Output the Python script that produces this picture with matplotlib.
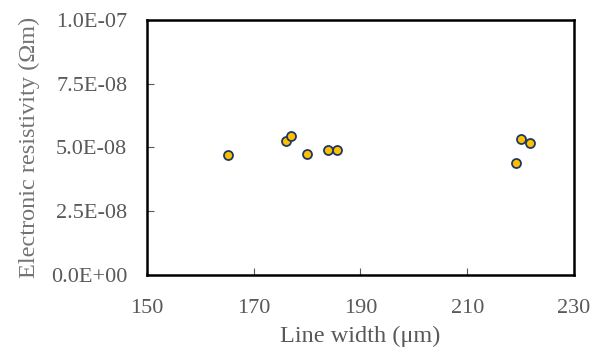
import matplotlib
matplotlib.use("Agg")
import matplotlib.pyplot as plt
from matplotlib.ticker import FuncFormatter

line_width_um = [165.2, 176.0, 177.0, 180.1, 183.9, 185.6, 220.0, 221.8, 219.2]
resistivity = [4.69e-8, 5.27e-8, 5.44e-8, 4.76e-8, 4.91e-8, 4.91e-8, 5.35e-8, 5.18e-8, 4.40e-8]
x_ticks = [150, 170, 190, 210, 230]
y_ticks = [0.0, 2.5e-8, 5.0e-8, 7.5e-8, 1.0e-7]

plt.rcParams['font.family'] = ['Liberation Serif', 'DejaVu Serif']

fig = plt.figure(figsize=(6.05, 3.5), dpi=100)
ax = fig.add_axes([0.2425, 0.2143, 0.7063, 0.7286])

ax.scatter(line_width_um, resistivity, s=42, facecolor='#FFC000',
           edgecolor='#1F3864', linewidth=1.3, zorder=3)

ax.set_xlim(150, 230)
ax.set_ylim(0, 1e-7)
ax.set_xticks(x_ticks)
ax.set_yticks(y_ticks)

def fmt(v, pos):
    return "%.1E" % v

ax.yaxis.set_major_formatter(FuncFormatter(fmt))

for sp in ax.spines.values():
    sp.set_linewidth(1.8)
    sp.set_color('black')

ax.tick_params(direction='in', length=5, width=0.8, color='#595959',
               labelsize=16, labelcolor='#595959')
ax.tick_params(axis='y', pad=14)
ax.tick_params(axis='x', pad=17)

ax.set_xlabel('Line width (μm)', fontsize=17.5, color='#595959', labelpad=6)
ax.set_ylabel('Electronic resistivity (Ωm)', fontsize=17.5, color='#737373', labelpad=8)

fig.savefig('out.png', dpi=100)
